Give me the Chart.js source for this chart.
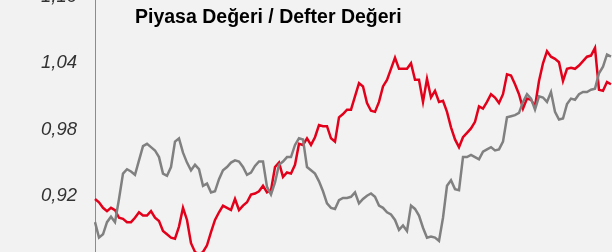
<!DOCTYPE html>
<html>
<head>
<meta charset="UTF-8">
<title>Piyasa Değeri / Defter Değeri</title>
<style>
  html, body { margin: 0; padding: 0; background: #f2f2f2; overflow: hidden; }
  #wrap { position: absolute; left: 0; top: -24px; width: 612px; height: 307px; }
  #baslik {
    position: absolute; left: 135px; top: 6px;
    font: bold 19.5px "Liberation Sans", Arial, sans-serif;
    line-height: 20px; color: #000; white-space: nowrap;
  }
</style>
</head>
<body>
<div id="wrap"><canvas id="grafik"></canvas></div>
<div id="baslik">Piyasa Değeri / Defter Değeri</div>

<script src="https://cdn.jsdelivr.net/npm/chart.js@4/dist/chart.umd.min.js"></script>
<script>
  // kirmizi seri
  var kirmizi = [
    0.917, 0.914, 0.909, 0.906, 0.909, 0.907, 0.900, 0.899, 0.896, 0.896,
    0.900, 0.905, 0.902, 0.902, 0.906, 0.900, 0.897, 0.888, 0.885, 0.882,
    0.881, 0.892, 0.909, 0.898, 0.877, 0.869, 0.867, 0.869, 0.875, 0.887,
    0.898, 0.905, 0.911, 0.909, 0.907, 0.917, 0.907, 0.911, 0.914, 0.921,
    0.922, 0.924, 0.929, 0.923, 0.925, 0.946, 0.950, 0.937, 0.941, 0.940,
    0.948, 0.967, 0.966, 0.972, 0.966, 0.973, 0.984, 0.983, 0.983, 0.972,
    0.969, 0.991, 0.994, 0.998, 0.998, 1.010, 1.022, 1.019, 1.004, 0.997,
    0.996, 1.005, 1.019, 1.025, 1.035, 1.045, 1.035, 1.035, 1.035, 1.040,
    1.025, 1.025, 1.005, 1.026, 1.009, 1.015, 1.005, 1.006, 0.996, 0.982,
    0.971, 0.964, 0.973, 0.977, 0.981, 0.987, 1.001, 0.999, 1.005, 1.012,
    1.009, 1.004, 1.012, 1.030, 1.029, 1.021, 1.012, 0.999, 1.008, 1.007,
    1.001, 1.024, 1.040, 1.051, 1.046, 1.044, 1.041, 1.024, 1.035, 1.036,
    1.035, 1.038, 1.042, 1.046, 1.047, 1.054, 1.016, 1.015, 1.023, 1.021
  ];

  // gri seri
  var gri = [
    0.896, 0.882, 0.885, 0.896, 0.901, 0.896, 0.917, 0.940, 0.944, 0.942,
    0.939, 0.952, 0.965, 0.967, 0.964, 0.961, 0.955, 0.940, 0.938, 0.946,
    0.969, 0.972, 0.959, 0.950, 0.943, 0.948, 0.944, 0.929, 0.931, 0.923,
    0.924, 0.935, 0.943, 0.946, 0.950, 0.952, 0.951, 0.946, 0.939, 0.941,
    0.947, 0.951, 0.951, 0.928, 0.921, 0.932, 0.948, 0.951, 0.955, 0.955,
    0.966, 0.972, 0.971, 0.946, 0.943, 0.940, 0.933, 0.924, 0.913, 0.909,
    0.908, 0.916, 0.918, 0.918, 0.919, 0.923, 0.913, 0.917, 0.920, 0.922,
    0.919, 0.911, 0.909, 0.905, 0.903, 0.898, 0.889, 0.893, 0.888, 0.911,
    0.908, 0.902, 0.891, 0.882, 0.883, 0.882, 0.879, 0.900, 0.929, 0.934,
    0.926, 0.925, 0.955, 0.955, 0.957, 0.955, 0.953, 0.960, 0.962, 0.964,
    0.961, 0.962, 0.969, 0.991, 0.992, 0.993, 0.995, 1.005, 1.012, 1.008,
    0.998, 1.010, 1.009, 1.005, 1.014, 0.996, 0.989, 0.990, 1.003, 1.008,
    1.007, 1.012, 1.014, 1.014, 1.016, 1.017, 1.031, 1.037, 1.048, 1.046
  ];

  var gunler = kirmizi.map(function(v, i) { return String(i + 1); });
  var yMin = 0.86;
  var yTikler = [0.92, 0.98, 1.04, 1.10];

  var ctx = document.getElementById("grafik");

  var chart = new Chart(ctx, {
    type: 'line',
    data: {
      labels: gunler,
      datasets: [
        { label: 'Gri', data: gri, borderColor: '#808080', borderWidth: 2.5,
          pointRadius: 0, tension: 0, fill: false },
        { label: 'Kırmızı', data: kirmizi, borderColor: '#e2001a', borderWidth: 2.5,
          pointRadius: 0, tension: 0, fill: false }
      ]
    },
    options: {
      responsive: true,
      maintainAspectRatio: false,
      animation: false,
      layout: { padding: { top: 1.8, bottom: 7.2, left: 0, right: 1 } },
      plugins: {
        legend: { display: false },
        tooltip: { enabled: false },
        title: { display: false }
      },
      scales: {
        x: { display: false },
        y: {
          min: yMin,
          max: yTikler[yTikler.length - 1],
          afterFit: function(scale) { scale.width = 95; },
          afterBuildTicks: function(scale) {
            scale.ticks = yTikler.map(function(v) { return { value: v }; });
          },
          grid: { display: false },
          border: { display: true, color: '#8c8c8c', width: 1 },
          ticks: {
            padding: 10,
            color: '#333333',
            font: { family: '"Liberation Sans", Arial, sans-serif', size: 18.5, style: 'italic' },
            callback: function(value) { return value.toFixed(2).replace('.', ','); }
          }
        }
      }
    }
  });
</script>
</body>
</html>
